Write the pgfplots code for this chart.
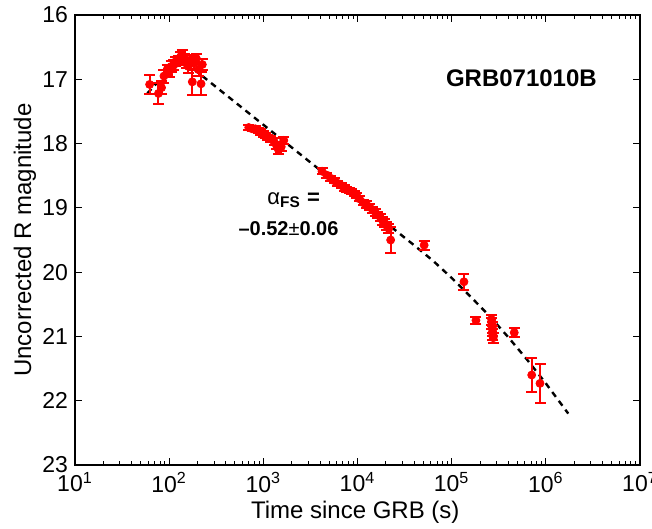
\documentclass[border=0pt]{standalone}
\usepackage{pgfplots}
\pgfplotsset{compat=1.18}
\usepackage{pgfplotstable}
\usepackage{fontspec}
\setmainfont{Liberation Sans}

\pgfplotstableread{
t m e
62 17.08 0.15
77 17.22 0.16
83 17.13 0.10
88 16.95 0.10
95 16.85 0.08
100 16.88 0.08
105 16.80 0.08
112 16.78 0.08
118 16.72 0.07
125 16.70 0.07
132 16.65 0.07
138 16.62 0.08
145 16.68 0.07
152 16.75 0.07
160 16.80 0.10
168 16.70 0.08
176 17.04 0.20
185 16.75 0.10
195 16.68 0.08
205 16.85 0.10
218 17.07 0.18
225 16.77 0.08
700 17.75 0.04
760 17.77 0.04
820 17.77 0.04
880 17.80 0.04
940 17.82 0.04
1000 17.85 0.04
1050 17.88 0.04
1100 17.90 0.04
1200 17.93 0.05
1300 17.97 0.05
1380 18.03 0.05
1450 18.10 0.06
1550 18.05 0.06
1650 17.95 0.06
4200 18.43 0.05
4700 18.49 0.04
5200 18.54 0.04
5700 18.58 0.04
6200 18.62 0.04
6700 18.65 0.04
7200 18.69 0.04
7700 18.71 0.04
8200 18.73 0.04
8700 18.75 0.04
9200 18.78 0.04
9800 18.81 0.04
10500 18.86 0.04
11500 18.92 0.04
12500 18.95 0.05
13500 18.99 0.05
14500 19.03 0.05
15500 19.07 0.05
16500 19.11 0.05
17500 19.15 0.05
18500 19.20 0.06
19500 19.24 0.06
20500 19.28 0.06
21500 19.32 0.07
22500 19.50 0.20
51000 19.58 0.07
135000 20.15 0.12
181000 20.75 0.06
266000 20.74 0.08
268000 20.80 0.08
270000 20.86 0.08
272000 20.92 0.08
274000 20.97 0.08
276000 21.02 0.08
462000 20.94 0.07
708000 21.60 0.27
867000 21.73 0.30
}\grbdata

\begin{document}
\begin{tikzpicture}
\begin{axis}[
  name=ax,
  scale only axis,
  width=282.5pt, height=225pt,
  xmode=log, xmin=10, xmax=1e7,
  ymin=16, ymax=23, y dir=reverse,
  xtick={1e1,1e2,1e3,1e4,1e5,1e6,1e7},
  xticklabels={10\textsuperscript{1},10\textsuperscript{2},10\textsuperscript{3},10\textsuperscript{4},10\textsuperscript{5},10\textsuperscript{6},10\textsuperscript{7}},
  ytick={16,17,18,19,20,21,22,23},
  yticklabels={16,17,18,19,20,21,22,23},
  minor y tick num=0,
  tick align=inside,
  major tick length=3.5pt,
  minor tick length=2pt,
  tick style={black, line width=0.5pt},
  axis line style={line width=0.6pt},
  tick label style={font=\fontsize{11.5}{13}\selectfont},
  label style={font=\fontsize{12}{14}\selectfont},
  xlabel={Time since GRB (s)},
  ylabel={Uncorrected R magnitude},
  xlabel style={at={(axis description cs:0.496,-0.104)}, anchor=center},
  ylabel style={at={(axis description cs:-0.0885,0.5)}, anchor=center},
  clip=false,
]
\addplot[black, line width=1.2pt, dash pattern=on 3pt off 2.5pt]
  coordinates {(58.6,17.22) (130,16.67) (39800,19.58) (63100,19.82) (100000,20.09)
  (158500,20.38) (251200,20.68) (398100,21.01) (631000,21.36) (1.0e6,21.73) (1.73e6,22.20)};
\addplot[red, only marks, mark=*, mark size=2pt,
  error bars/.cd, y dir=both, y explicit,
  error bar style={red, line width=1pt},
  error mark options={red, mark size=2.75pt, line width=1pt, rotate=90}]
  table[x=t, y=m, y error=e] {\grbdata};
\node[font=\fontsize{12}{14}\selectfont\bfseries] at (axis cs:5.5e5,16.98) {GRB071010B};
\node[font=\fontsize{11}{13}\selectfont] at (axis cs:2100,18.88) {α\textsubscript{\textbf{FS}} \textbf{=}};
\node[font=\fontsize{10}{12}\selectfont] at (axis cs:1850,19.32) {\textbf{–0.52}±\textbf{0.06}};
\end{axis}
\pgfresetboundingbox
\path[use as bounding box] ([shift={(-37.5pt,-32pt)}]ax.south west) rectangle ([shift={(6pt,7.5pt)}]ax.north east);
\end{tikzpicture}
\end{document}
